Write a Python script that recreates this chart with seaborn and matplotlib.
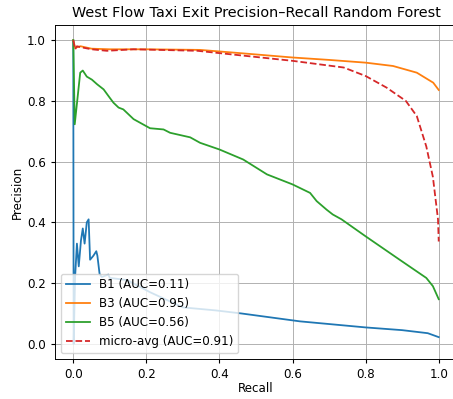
import seaborn as sns
import matplotlib.pyplot as plt
import pandas as pd

# recall / precision points
b1_recall = [0.0, 0.001, 0.005, 0.010, 0.015, 0.021, 0.026, 0.031, 0.037, 0.042, 0.046,
             0.055, 0.063, 0.066, 0.072, 0.078, 0.096, 0.10, 0.147, 0.21, 0.30, 0.39,
             0.46, 0.62, 0.80, 0.90, 0.97, 1.0]
b1_precision = [1.0, 0.0, 0.22, 0.33, 0.255, 0.34, 0.38, 0.33, 0.40, 0.41, 0.277,
                0.29, 0.305, 0.29, 0.23, 0.22, 0.228, 0.217, 0.21, 0.17, 0.12, 0.11,
                0.10, 0.074, 0.054, 0.045, 0.035, 0.022]

b3_recall = [0.0, 0.005, 0.02, 0.05, 0.10, 0.20, 0.347, 0.45, 0.60, 0.70, 0.80,
             0.875, 0.94, 0.985, 1.0]
b3_precision = [1.0, 0.975, 0.98, 0.972, 0.97, 0.97, 0.968, 0.958, 0.943, 0.935, 0.926,
                0.915, 0.893, 0.86, 0.836]

b5_recall = [0.0, 0.004, 0.019, 0.026, 0.037, 0.051, 0.065, 0.083, 0.10, 0.11, 0.124,
             0.137, 0.165, 0.21, 0.247, 0.265, 0.32, 0.347, 0.40, 0.465, 0.53, 0.60,
             0.648, 0.666, 0.693, 0.71, 0.734, 0.80, 0.893, 0.966, 0.984, 1.0]
b5_precision = [1.0, 0.723, 0.893, 0.90, 0.88, 0.87, 0.855, 0.838, 0.81, 0.794, 0.778,
                0.772, 0.74, 0.71, 0.706, 0.695, 0.68, 0.662, 0.64, 0.607, 0.558, 0.525,
                0.497, 0.47, 0.442, 0.426, 0.41, 0.354, 0.277, 0.217, 0.19, 0.147]

micro_recall = [0.0, 0.005, 0.01, 0.02, 0.05, 0.092, 0.165, 0.34, 0.60, 0.74, 0.80,
                0.857, 0.91, 0.94, 0.966, 0.984, 0.998, 1.0]
micro_precision = [1.0, 0.97, 0.98, 0.977, 0.97, 0.965, 0.97, 0.965, 0.932, 0.91, 0.882,
                   0.844, 0.80, 0.75, 0.65, 0.55, 0.41, 0.337]

labels = ["B1 (AUC=0.11)", "B3 (AUC=0.95)", "B5 (AUC=0.56)", "micro-avg (AUC=0.91)"]

# the reference looks like a downscaled render, so shrink everything a bit
s = 0.86
plt.rcParams.update({
    "font.size": 10 * s,
    "axes.titlesize": 12 * s,
    "axes.labelsize": 10 * s,
    "xtick.labelsize": 10 * s,
    "ytick.labelsize": 10 * s,
    "legend.fontsize": 10 * s,
    "xtick.major.size": 3.5 * s,
    "ytick.major.size": 3.5 * s,
    "axes.linewidth": 0.8 * s,
    "grid.linewidth": 0.8 * s,
})

fig = plt.figure(figsize=(4.53, 3.99), dpi=100)
ax = fig.add_axes([55 / 453, 40 / 399, 402 / 453, 334 / 399])

series = [(b1_recall, b1_precision, "C0", "-"),
          (b3_recall, b3_precision, "C1", "-"),
          (b5_recall, b5_precision, "C2", "-"),
          (micro_recall, micro_precision, "C3", "--")]
for (r, p, c, ls), lab in zip(series, labels):
    df = pd.DataFrame({"Recall": r, "Precision": p})
    sns.lineplot(data=df, x="Recall", y="Precision", sort=False, estimator=None,
                 color=c, linestyle=ls, linewidth=1.5 * s, label=lab, ax=ax)

ax.set_xlim(-0.05, 1.05)
ax.set_ylim(-0.05, 1.05)
ax.grid(True)
ax.set_title("West Flow Taxi Exit Precision\u2013Recall Random Forest")
ax.set_xlabel("Recall", labelpad=1)
ax.set_ylabel("Precision", labelpad=2)
ax.legend(loc="lower left")

fig.savefig("out.png", dpi=100)
